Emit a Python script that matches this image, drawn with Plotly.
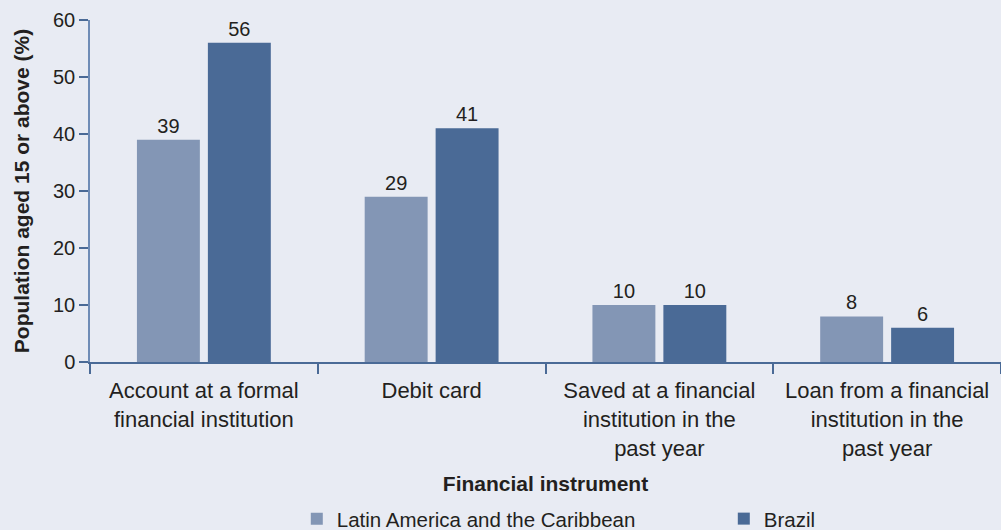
import plotly.graph_objects as go

# dados
categorias = [
    'Account at a formal<br>financial institution',
    'Debit card',
    'Saved at a financial<br>institution in the<br>past year',
    'Loan from a financial<br>institution in the<br>past year',
]
valores_lac = [39, 29, 10, 8]
valores_brasil = [56, 41, 10, 6]
nomes_series = ['Latin America and the Caribbean', 'Brazil']

cor_fundo = '#E8EBF3'
cor_clara = '#8396B5'
cor_escura = '#4A6A96'
cor_texto = '#231F20'
fonte = 'Liberation Sans, Arial, sans-serif'

fig = go.Figure()
for nome, valores, cor in zip(nomes_series, [valores_lac, valores_brasil], [cor_clara, cor_escura]):
    fig.add_trace(go.Bar(
        x=categorias,
        y=valores,
        name=nome,
        marker=dict(color=cor, line=dict(width=0)),
        text=valores,
        textposition='outside',
        textfont=dict(size=20, color=cor_texto, family=fonte),
        cliponaxis=False,
    ))

fig.update_layout(
    width=1001,
    height=530,
    margin=dict(l=90, r=0, t=20, b=168, autoexpand=False),
    paper_bgcolor=cor_fundo,
    plot_bgcolor=cor_fundo,
    font=dict(family=fonte, size=21, color=cor_texto),
    barmode='group',
    bargap=0.377,
    bargroupgap=0.113,
    showlegend=True,
    legend=dict(
        orientation='h',
        x=0.227, xanchor='left',
        y=-0.40, yanchor='top',
        entrywidth=382,
        font=dict(size=20.5, color=cor_texto),
        bgcolor='rgba(0,0,0,0)',
    ),
    xaxis=dict(
        showgrid=False,
        showline=True,
        linecolor=cor_escura,
        linewidth=2,
        ticks='outside',
        tickson='boundaries',
        ticklen=10,
        tickwidth=2,
        tickcolor=cor_escura,
        ticklabelstandoff=8,
        tickfont=dict(size=22, color=cor_texto),
        title=dict(text='<b>Financial instrument</b>', font=dict(size=21), standoff=17),
    ),
    yaxis=dict(
        range=[0, 60],
        dtick=10,
        showgrid=False,
        zeroline=False,
        showline=True,
        linecolor='#6F8CB6',
        linewidth=1.5,
        ticks='outside',
        ticklen=9,
        tickwidth=2,
        tickcolor=cor_escura,
        tickfont=dict(size=20, color=cor_texto),
        title=dict(text='<b>Population aged 15 or above (%)</b>', font=dict(size=21), standoff=18),
    ),
)

# tira a margem padrão do body para o gráfico ocupar a janela toda
fig.write_html(
    'out.html',
    config={'displayModeBar': False},
    post_script="document.body.style.margin='0';",
)
